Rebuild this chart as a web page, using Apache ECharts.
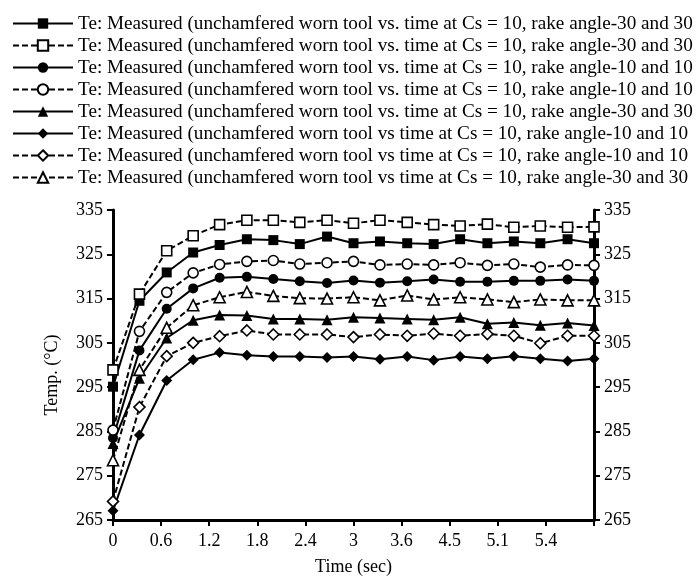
<!DOCTYPE html>
<html>
<head>
<meta charset="utf-8">
<title>Temperature vs time</title>
<script src="https://cdn.jsdelivr.net/npm/echarts@6/dist/echarts.min.js"></script>
<style>
  html, body { margin: 0; padding: 0; background: #fff; }
  #chart { width: 699px; height: 582px; }
</style>
</head>
<body>
<div id="chart"></div>
<script>
// time (sec) of each measurement
const times = [0, 0.33, 0.67, 1.0, 1.33, 1.67, 2.0, 2.33, 2.67, 3.0, 3.33, 3.67, 4.0, 4.33, 4.67, 5.0, 5.33, 5.67, 6.0];

// tick labels of the x axis as printed (one per 0.6 step)
const xTickLabels = ["0", "0.6", "1.2", "1.8", "2.4", "3", "3.6", "4.5", "5.1", "5.4", ""];

const legendLabels = [
  "Te: Measured (unchamfered worn tool vs. time at Cs = 10, rake angle-30 and 30",
  "Te: Measured (unchamfered worn tool vs. time at Cs = 10, rake angle-30 and 30",
  "Te: Measured (unchamfered worn tool vs. time at Cs = 10, rake angle-10 and 10",
  "Te: Measured (unchamfered worn tool vs. time at Cs = 10, rake angle-10 and 10",
  "Te: Measured (unchamfered worn tool vs. time at Cs = 10, rake angle-30 and 30",
  "Te: Measured (unchamfered worn tool vs time at Cs = 10, rake angle-10 and 10",
  "Te: Measured (unchamfered worn tool vs time at Cs = 10, rake angle-10 and 10",
  "Te: Measured (unchamfered worn tool vs time at Cs = 10, rake angle-30 and 30"
];

// temperatures (°C)
const filledSquare = [295.1, 314.5, 320.9, 325.4, 327.1, 328.4, 328.2, 327.3, 329.0, 327.5, 327.9, 327.5, 327.3, 328.4, 327.5, 327.9, 327.5, 328.4, 327.5];
const openSquare = [298.9, 316.0, 325.8, 329.2, 331.7, 332.7, 332.7, 332.2, 332.7, 332.0, 332.7, 332.2, 331.7, 331.4, 331.8, 331.1, 331.4, 331.1, 331.2];
const filledCircle = [283.5, 303.3, 312.7, 317.3, 319.7, 319.9, 319.4, 318.9, 318.5, 319.1, 318.6, 318.9, 319.3, 318.8, 318.8, 319.0, 319.0, 319.3, 319.0];
const openCircle = [285.3, 307.6, 316.4, 320.8, 322.7, 323.4, 323.6, 322.8, 323.1, 323.4, 322.6, 322.8, 322.6, 323.1, 322.5, 322.8, 322.1, 322.6, 322.5];
const filledTriangle = [282.3, 297.0, 306.1, 310.1, 311.3, 311.2, 310.4, 310.4, 310.2, 310.8, 310.6, 310.4, 310.2, 310.8, 309.3, 309.6, 309.0, 309.5, 308.9];
const filledDiamond = [267.1, 284.2, 296.5, 301.2, 302.8, 302.2, 301.9, 301.9, 301.7, 301.9, 301.3, 301.9, 301.1, 301.9, 301.4, 302.0, 301.4, 300.9, 301.4];
const openDiamond = [269.2, 290.5, 302.0, 305.0, 306.5, 307.8, 306.9, 306.9, 306.9, 306.3, 306.9, 306.6, 307.1, 306.6, 307.0, 306.6, 304.9, 306.6, 306.6];
const openTriangle = [278.5, 298.9, 308.4, 313.5, 315.3, 316.5, 315.6, 315.1, 315.0, 315.3, 314.6, 315.7, 314.8, 315.3, 314.8, 314.2, 314.8, 314.6, 314.6];

const FONT = "Liberation Serif";

function pairs(vals) {
  return vals.map((v, i) => [times[i], v]);
}

function makeSeries(id, vals, symbol, size, filled, dashed) {
  return {
    name: id,
    type: "line",
    data: pairs(vals),
    symbol: symbol,
    symbolSize: size,
    showSymbol: true,
    showAllSymbol: true,
    animation: false,
    lineStyle: { color: "#000", width: 2, type: dashed ? [6, 3] : "solid" },
    itemStyle: {
      color: filled ? "#000" : "#fff",
      borderColor: "#000",
      borderWidth: filled ? 0 : 1.6
    },
    emphasis: { disabled: true }
  };
}

const series = [
  makeSeries("s1", filledSquare, "rect", 10, true, false),
  makeSeries("s2", openSquare, "rect", 10, false, true),
  makeSeries("s3", filledCircle, "circle", 10, true, false),
  makeSeries("s4", openCircle, "circle", 10, false, true),
  makeSeries("s5", filledTriangle, "triangle", 11, true, false),
  makeSeries("s6", filledDiamond, "diamond", 11, true, false),
  makeSeries("s7", openDiamond, "diamond", 11, false, true),
  makeSeries("s8", openTriangle, "triangle", 11, false, true)
];

const yAxisBase = {
  type: "value",
  min: 265,
  max: 335,
  interval: 10,
  splitLine: { show: false },
  axisLine: { show: true, lineStyle: { color: "#000", width: 3 } },
  axisTick: { show: true, length: 6, lineStyle: { color: "#000", width: 2 } },
  axisLabel: { color: "#000", fontFamily: FONT, fontSize: 18, margin: 10 }
};

const chart = echarts.init(document.getElementById("chart"), null, { renderer: "canvas" });
chart.setOption({
  animation: false,
  backgroundColor: "#fff",
  grid: { left: 113, right: 105, top: 210, bottom: 62, containLabel: false },
  legend: {
    orient: "vertical",
    left: 7,
    top: 9,
    itemWidth: 60,
    itemHeight: 13,
    itemGap: 3,
    selectedMode: false,
    data: series.map(s => s.name),
    formatter: name => legendLabels[Number(name.slice(1)) - 1],
    textStyle: { color: "#000", fontFamily: FONT, fontSize: 19.2 }
  },
  xAxis: {
    type: "value",
    min: 0,
    max: 6,
    interval: 0.6,
    name: "Time (sec)",
    nameLocation: "middle",
    nameGap: 38,
    nameTextStyle: { color: "#000", fontFamily: FONT, fontSize: 18 },
    splitLine: { show: false },
    axisLine: { show: true, onZero: false, lineStyle: { color: "#000", width: 3 } },
    axisTick: { show: true, length: 6, lineStyle: { color: "#000", width: 2 } },
    axisLabel: {
      color: "#000",
      fontFamily: FONT,
      fontSize: 18,
      margin: 12,
      formatter: v => xTickLabels[Math.round(v / 0.6)]
    }
  },
  yAxis: [
    Object.assign({}, yAxisBase, {
      position: "left",
      name: "Temp. (°C)",
      nameLocation: "middle",
      nameGap: 52,
      nameTextStyle: { color: "#000", fontFamily: FONT, fontSize: 18, padding: [0, 20, 0, 0] }
    }),
    Object.assign({}, yAxisBase, { position: "right" })
  ],
  series: series
});
</script>
</body>
</html>
